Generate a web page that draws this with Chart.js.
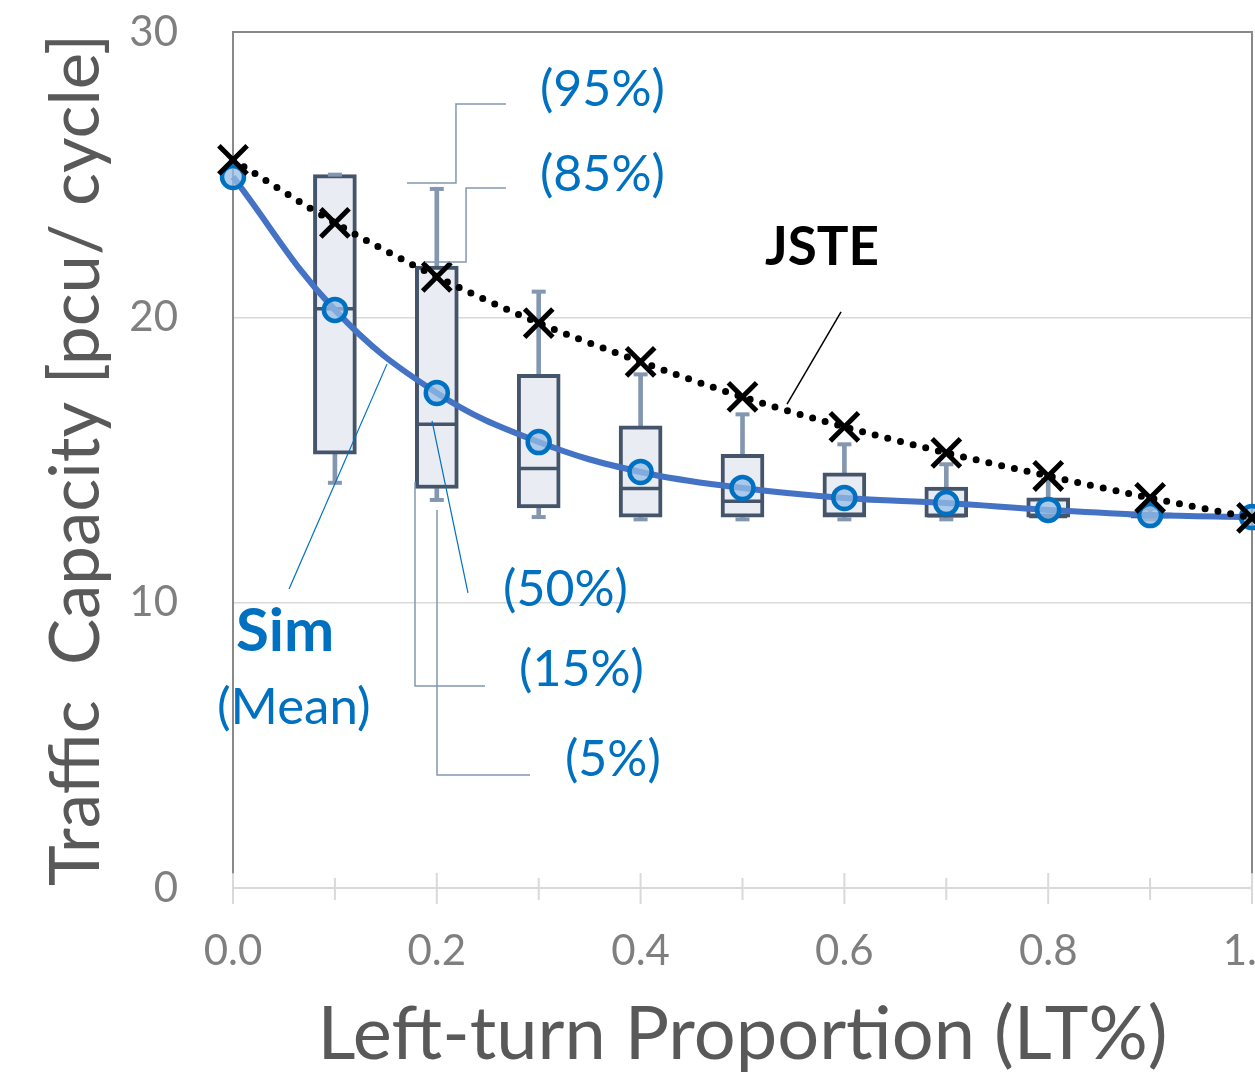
<!DOCTYPE html>
<html><head><meta charset="utf-8">
<script src="https://cdn.jsdelivr.net/npm/chart.js@4.4.1/dist/chart.umd.min.js"></script>
<style>
html,body{margin:0;padding:0;background:#fff;overflow:hidden;width:1255px;height:1080px;}
#wrap{width:1300px;height:1080px;position:relative;}
canvas{display:block;}
</style></head><body>
<div id="wrap"><canvas id="c" width="1300" height="1080"></canvas></div>
<script>
// ---- data ----
const lt = [0.0, 0.1, 0.2, 0.3, 0.4, 0.5, 0.6, 0.7, 0.8, 0.9, 1.0];
const jste = [25.52, 23.31, 21.42, 19.80, 18.44, 17.21, 16.16, 15.25, 14.44, 13.67, 12.97];
const simMean = [24.92, 20.26, 17.35, 15.63, 14.58, 14.02, 13.67, 13.49, 13.25, 13.07, 13.0];
const p5  = [null, 14.2, 13.6, 13.0, 12.92, 12.92, 12.92, 12.92, 12.92, 12.92, null];
const p15 = [null, 15.2, 14.0, 13.32, 13.0, 13.0, 13.0, 13.0, 13.0, 13.0, null];
const p50 = [null, 20.3, 16.25, 14.7, 14.0, 13.55, 13.1, 13.05, 13.02, 13.02, null];
const p85 = [null, 25.0, 21.8, 18.0, 16.2, 15.2, 14.55, 14.05, 13.67, 13.15, null];
const p95 = [null, 25.0, 24.5, 20.9, 18.0, 16.6, 15.55, 14.85, 14.3, 13.3, null];
const yTicks = [0, 10, 20, 30];
const xLabelEvery = 2;

const FONT = 'Lato, "Open Sans", sans-serif';
const pts = (arr) => lt.map((v, i) => ({x: v, y: arr[i]}));
const range = (a, b) => lt.map((v, i) => (a[i] == null || b[i] == null) ? {x: v, y: null} : {x: v, y: [a[i], b[i]]});

const framePlugin = {
  id: 'frameTicks',
  beforeDatasetsDraw(chart) {
    const {ctx, chartArea: {left, right, top, bottom}, scales: {x, y}} = chart;
    ctx.save();
    ctx.strokeStyle = '#d9d9d9';
    ctx.lineWidth = 2;
    lt.forEach((v, i) => {
      const px = x.getPixelForValue(v);
      const major = i % xLabelEvery === 0;
      ctx.beginPath();
      ctx.moveTo(px, bottom - (major ? 15 : 10));
      ctx.lineTo(px, bottom + (major ? 16 : 12));
      ctx.stroke();
    });
    const yEnd = y.getPixelForValue(0.52);
    ctx.strokeStyle = '#898989';
    ctx.lineWidth = 2;
    ctx.beginPath();
    ctx.moveTo(left, yEnd); ctx.lineTo(left, top); ctx.lineTo(right, top); ctx.lineTo(right, yEnd);
    ctx.stroke();
    ctx.restore();
  }
};

const annoLines = [
  {p: [[0.1708, 24.71], [0.2188, 24.71], [0.2188, 27.48], [0.2679, 27.48]], c: '#8497b0', w: 1.5},
  {p: [[0.1884, 21.94], [0.2287, 21.94], [0.2287, 24.53], [0.2679, 24.53]], c: '#8497b0', w: 1.5},
  {p: [[0.1953, 16.37], [0.2306, 10.34]], c: '#0070C0', w: 1.2},
  {p: [[0.1786, 14.23], [0.1786, 7.08], [0.2473, 7.08]], c: '#8497b0', w: 1.5},
  {p: [[0.2002, 13.25], [0.2002, 3.96], [0.2915, 3.96]], c: '#8497b0', w: 1.5},
  {p: [[0.1511, 18.36], [0.055, 10.48]], c: '#0070C0', w: 1.2},
  {p: [[0.5967, 20.19], [0.5437, 16.96]], c: '#000000', w: 1.5}
];
const annoTexts = [
  {t: '(95%)', x: 0.3013, y: 27.97, f: '50px ' + FONT, c: '#0070C0'},
  {t: '(85%)', x: 0.3013, y: 24.99, f: '50px ' + FONT, c: '#0070C0'},
  {t: '(50%)', x: 0.265, y: 10.44, f: '50px ' + FONT, c: '#0070C0'},
  {t: '(15%)', x: 0.2807, y: 7.64, f: '50px ' + FONT, c: '#0070C0'},
  {t: '(5%)', x: 0.3258, y: 4.49, f: '50px ' + FONT, c: '#0070C0'},
  {t: 'Sim', x: 0.0029, y: 8.97, f: 'bold 60px ' + FONT, c: '#0070C0'},
  {t: '(Mean)', x: -0.0157, y: 6.31, f: '51px ' + FONT, c: '#0070C0'},
  {t: 'JSTE', x: 0.522, y: 22.43, f: 'bold 53px ' + FONT, c: '#000000'}
];
const annoPlugin = {
  id: 'anno',
  afterDatasetsDraw(chart) {
    const {ctx, scales: {x, y}} = chart;
    ctx.save();
    annoLines.forEach(l => {
      ctx.strokeStyle = l.c; ctx.lineWidth = l.w;
      ctx.beginPath();
      l.p.forEach((q, i) => {
        const px = x.getPixelForValue(q[0]), py = y.getPixelForValue(q[1]);
        if (i === 0) ctx.moveTo(px, py); else ctx.lineTo(px, py);
      });
      ctx.stroke();
    });
    ctx.textAlign = 'left';
    ctx.textBaseline = 'middle';
    annoTexts.forEach(t => {
      ctx.font = t.f; ctx.fillStyle = t.c;
      ctx.fillText(t.t, x.getPixelForValue(t.x), y.getPixelForValue(t.y));
    });
    ctx.restore();
  }
};

new Chart(document.getElementById('c'), {
  type: 'bar',
  data: {
    datasets: [
      {type: 'line', label: 'JSTE', data: pts(jste), order: 0, clip: false,
        borderColor: '#000', borderWidth: 7, borderDash: [0, 13], borderCapStyle: 'round', tension: 0.3,
        pointStyle: 'crossRot', pointRadius: 20, pointBorderWidth: 5, pointBorderColor: '#000', pointBackgroundColor: '#000'},
      {type: 'line', label: 'Sim (Mean)', data: pts(simMean), order: 1, clip: false,
        borderColor: '#4472C4', borderWidth: 6, tension: 0.4,
        pointStyle: 'circle', pointRadius: 11, pointBorderWidth: 4.5, pointBorderColor: '#0070C0', pointBackgroundColor: 'rgba(150,190,230,0.75)'},
      {type: 'scatter', label: 'median', data: pts(p50), order: 2,
        pointStyle: 'line', pointRadius: 19, pointBorderWidth: 3.5, pointBorderColor: '#44546a'},
      {type: 'scatter', label: 'p5', data: pts(p5), order: 3,
        pointStyle: 'line', pointRadius: 7, pointBorderWidth: 4, pointBorderColor: '#8497b0'},
      {type: 'scatter', label: 'p95', data: pts(p95), order: 3,
        pointStyle: 'line', pointRadius: 7, pointBorderWidth: 4, pointBorderColor: '#8497b0'},
      {type: 'bar', label: 'box', data: range(p15, p85), order: 4, grouped: false, barThickness: 43,
        backgroundColor: '#e9ecf2', borderColor: '#44546a', borderWidth: 4, borderSkipped: false},
      {type: 'bar', label: 'lower', data: range(p5, p15), order: 5, grouped: false, barThickness: 4,
        backgroundColor: '#8497b0', borderWidth: 0},
      {type: 'bar', label: 'upper', data: range(p85, p95), order: 5, grouped: false, barThickness: 4,
        backgroundColor: '#8497b0', borderWidth: 0}
    ]
  },
  options: {
    responsive: false,
    animation: false,
    devicePixelRatio: 1,
    events: [],
    layout: {padding: {left: 0, top: 32, right: 48, bottom: 0}},
    plugins: {legend: {display: false}, tooltip: {enabled: false}},
    scales: {
      x: {
        type: 'linear', min: 0, max: 1, offset: false,
        afterFit: s => { s.height = 192; s.paddingLeft = 0; s.paddingRight = 0; },
        grid: {display: true, drawOnChartArea: false, drawTicks: false, color: 'transparent', offset: false},
        border: {display: true, color: '#d9d9d9', width: 2},
        ticks: {
          stepSize: 0.1, padding: 38, color: '#7f7f7f', font: {family: FONT, size: 42},
          autoSkip: false, maxRotation: 0,
          callback: (v) => { const k = Math.round(v * 10); return k % xLabelEvery === 0 ? (k / 10).toFixed(1) : ''; }
        },
        title: {display: true, text: 'Left-turn Proportion (LT%)', color: '#595959',
          font: {family: FONT, size: 74}, padding: {top: 0, bottom: 0}}
      },
      y: {
        type: 'linear', min: 0, max: 30,
        afterFit: s => { s.width = 233; s.paddingTop = 0; s.paddingBottom = 0; },
        afterBuildTicks: s => { s.ticks = yTicks.map(v => ({value: v})); },
        grid: {drawTicks: false, lineWidth: 1.5,
          color: c => (c.tick && (c.tick.value === 10 || c.tick.value === 20)) ? '#d9d9d9' : 'transparent'},
        border: {display: false},
        ticks: {padding: 55, color: '#7f7f7f', font: {family: FONT, size: 42}},
        title: {display: true, text: 'Traffic  Capacity [pcu/ cycle]', color: '#595959',
          font: {family: FONT, size: 69}, padding: {top: 35, bottom: 0}}
      }
    }
  },
  plugins: [framePlugin, annoPlugin]
});
</script></body></html>
